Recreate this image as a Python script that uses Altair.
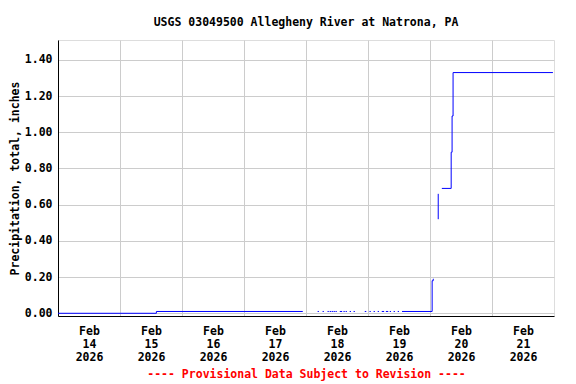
import altair as alt
import pandas as pd

# Cumulative precipitation readings (local time), with gaps between segments
times = [
    "2026-02-14T00:00", "2026-02-15T14:05", "2026-02-17T22:45",
    "2026-02-18T04:30", "2026-02-18T05:00",
    "2026-02-18T06:25", "2026-02-18T06:55",
    "2026-02-18T08:20", "2026-02-18T08:50",
    "2026-02-18T09:10", "2026-02-18T09:40",
    "2026-02-18T09:55", "2026-02-18T10:25",
    "2026-02-18T10:40", "2026-02-18T11:10",
    "2026-02-18T11:25", "2026-02-18T11:55",
    "2026-02-18T13:05", "2026-02-18T14:00",
    "2026-02-18T14:30", "2026-02-18T15:00",
    "2026-02-18T15:20", "2026-02-18T15:50",
    "2026-02-18T16:55", "2026-02-18T17:25",
    "2026-02-18T18:25", "2026-02-18T18:55",
    "2026-02-18T22:45", "2026-02-18T23:20",
    "2026-02-19T00:35", "2026-02-19T01:05",
    "2026-02-19T02:10", "2026-02-19T02:40",
    "2026-02-19T03:45", "2026-02-19T04:15",
    "2026-02-19T05:20", "2026-02-19T06:15",
    "2026-02-19T06:55", "2026-02-19T07:50",
    "2026-02-19T08:25", "2026-02-19T08:55",
    "2026-02-19T09:55", "2026-02-19T10:25",
    "2026-02-19T11:30", "2026-02-19T12:00",
    "2026-02-19T13:10", "2026-02-20T00:50", "2026-02-20T01:15", "2026-02-20T01:20",
    "2026-02-20T03:10", "2026-02-20T03:11",
    "2026-02-20T04:35", "2026-02-20T08:12", "2026-02-20T08:33", "2026-02-20T08:56",
    "2026-02-21T23:35",
]
values = [
    0.00, 0.01, 0.01,
    0.01, 0.01,
    0.01, 0.01,
    0.01, 0.01,
    0.01, 0.01,
    0.01, 0.01,
    0.01, 0.01,
    0.01, 0.01,
    0.01, 0.01,
    0.01, 0.01,
    0.01, 0.01,
    0.01, 0.01,
    0.01, 0.01,
    0.01, 0.01,
    0.01, 0.01,
    0.01, 0.01,
    0.01, 0.01,
    0.01, 0.01,
    0.01, 0.01,
    0.01, 0.01,
    0.01, 0.01,
    0.01, 0.01,
    0.01, 0.18, 0.19, 0.19,
    0.52, 0.66,
    0.69, 0.89, 1.09, 1.33,
    1.33,
]
segment = (
    [1, 1, 1]
    + [d for d in range(2, 23) for _ in range(2)]
    + [23, 23, 23, 23]
    + [24, 24]
    + [25, 25, 25, 25, 25]
)

y_ticks = [0.0, 0.2, 0.4, 0.6, 0.8, 1.0, 1.2, 1.4]
day_ticks = list(range(14, 22))

df = pd.DataFrame({"time": times, "value": values, "segment": segment})

FONT = "DejaVu Sans Mono"

x_axis = alt.Axis(
    values=[alt.DateTime(year=2026, month=2, date=d) for d in day_ticks],
    labelExpr="[timeFormat(datum.value, '%b'), timeFormat(datum.value, '%d'), timeFormat(datum.value, '%Y')]",
    labelOffset=31,
    labelAlign="center",
    labelBaseline="top",
    labelLineHeight=13,
    labelPadding=9,
    labelFlush=False,
    labelOverlap=False,
    labelFont=FONT,
    labelFontSize=11.5,
    labelFontWeight="bold",
    labelColor="black",
    ticks=False,
    grid=True,
    gridColor="#cccccc",
    gridWidth=1,
    domainColor="black",
    title="---- Provisional Data Subject to Revision ----",
    titleColor="#ff0000",
    titleFont=FONT,
    titleFontSize=11.5,
    titleFontWeight="bold",
    titlePadding=6,
)

y_axis = alt.Axis(
    values=y_ticks,
    format=".2f",
    labelFont=FONT,
    labelFontSize=11.5,
    labelFontWeight="bold",
    labelColor="black",
    labelPadding=6,
    ticks=False,
    grid=True,
    gridColor="#cccccc",
    gridWidth=1,
    domainColor="black",
    title="Precipitation, total, inches",
    titleFont=FONT,
    titleFontSize=11.5,
    titleFontWeight="bold",
    titleColor="black",
    titlePadding=4,
)

chart = (
    alt.Chart(df)
    .mark_line(color="#0000ff", strokeWidth=1, interpolate="step-after", clip=True)
    .encode(
        x=alt.X(
            "time:T",
            scale=alt.Scale(
                domain=[
                    alt.DateTime(year=2026, month=2, date=14),
                    alt.DateTime(year=2026, month=2, date=22),
                ]
            ),
            axis=x_axis,
        ),
        y=alt.Y(
            "value:Q",
            scale=alt.Scale(domain=[-0.015, 1.51], nice=False, zero=False),
            axis=y_axis,
        ),
        detail="segment:N",
    )
    .properties(
        width=496,
        height=276,
        autosize=alt.AutoSizeParams(type="none"),
        padding={"left": 50, "top": 32, "right": 14, "bottom": 70},
        title=alt.TitleParams(
            "USGS 03049500 Allegheny River at Natrona, PA",
            font=FONT,
            fontSize=11.5,
            fontWeight="bold",
            color="black",
            anchor="middle",
            frame="group",
            offset=12,
        ),
    )
    .configure_view(stroke="black", strokeWidth=1)
    .configure(background="white")
)

chart.save("out.html", embed_options={"renderer": "svg", "actions": False})
